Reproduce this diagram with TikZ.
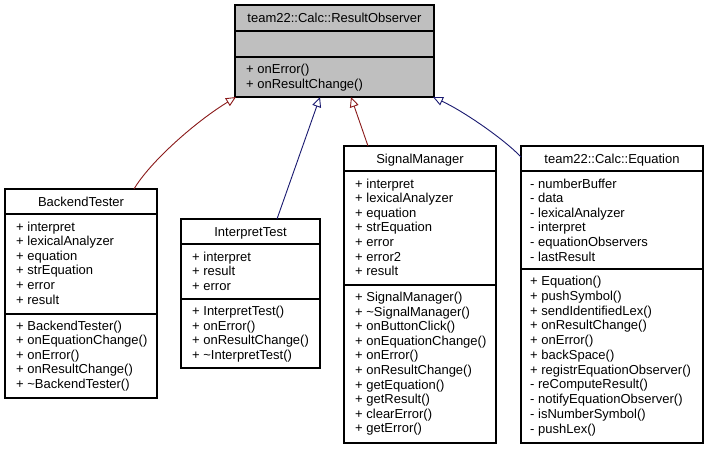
\documentclass[tikz,border=0pt]{standalone}
\usepackage{fontspec}
\setmainfont{Liberation Sans}
\usetikzlibrary{arrows.meta}
\definecolor{redline}{HTML}{8B1A1A}
\definecolor{blueline}{HTML}{191970}
\definecolor{boxgray}{HTML}{BFBFBF}
\begin{document}
\begin{tikzpicture}[x=1pt,y=-1pt,
  cls/.style={draw=black, line width=1.1pt, fill=white, inner sep=0pt, outer sep=0pt, anchor=north west},
  txt/.style={anchor=base west, inner sep=0pt, font=\fontsize{13}{15}\selectfont},
  ttl/.style={anchor=base, inner sep=0pt, font=\fontsize{13}{15}\selectfont},
  sepline/.style={draw=black, line width=1.1pt},
  inh/.style={line width=0.9pt, -{Triangle[open, length=10pt, width=9pt, line width=0.9pt]}}
]
\fill[white] (0,0) rectangle (709,448);
\useasboundingbox (0,0) rectangle (709,448);

% ---- team22::Calc::ResultObserver
\node[cls, fill=boxgray, minimum width=199, minimum height=92] (ro) at (235,5) {};
\draw[sepline] (235,31) -- (434,31);
\draw[sepline] (235,57) -- (434,57);
\node[ttl] (ro-t) at (334.5,22.5) {team22::Calc::ResultObserver};
\foreach \t [count=\i] in {+ onError(), + onResultChange()}
  \node[txt] (ro-m\i) at (246,{73.5+(\i-1)*14.6}) {\t};

% ---- BackendTester
\node[cls, minimum width=152, minimum height=209] (bt) at (5,189) {};
\draw[sepline] (5,214) -- (157,214);
\draw[sepline] (5,314) -- (157,314);
\node[ttl] (bt-t) at (81,206) {BackendTester};
\foreach \t [count=\i] in {+ interpret, + lexicalAnalyzer, + equation, + strEquation, + error, + result}
  \node[txt] (bt-a\i) at (16,{231+(\i-1)*14.6}) {\t};
\foreach \t [count=\i] in {+ BackendTester(), + onEquationChange(), + onError(), + onResultChange(), + \textasciitilde BackendTester()}
  \node[txt] (bt-m\i) at (16,{330+(\i-1)*14.6}) {\t};

% ---- InterpretTest
\node[cls, minimum width=139, minimum height=149] (it) at (181,219) {};
\draw[sepline] (181,244) -- (320,244);
\draw[sepline] (181,299) -- (320,299);
\node[ttl] (it-t) at (250.5,236) {InterpretTest};
\foreach \t [count=\i] in {+ interpret, + result, + error}
  \node[txt] (it-a\i) at (192,{261+(\i-1)*14.6}) {\t};
\foreach \t [count=\i] in {+ InterpretTest(), + onError(), + onResultChange(), + \textasciitilde InterpretTest()}
  \node[txt] (it-m\i) at (192,{315.5+(\i-1)*14.6}) {\t};

% ---- SignalManager
\node[cls, minimum width=152, minimum height=297] (sm) at (344,146) {};
\draw[sepline] (344,171) -- (496,171);
\draw[sepline] (344,285) -- (496,285);
\node[ttl] (sm-t) at (420,163) {SignalManager};
\foreach \t [count=\i] in {+ interpret, + lexicalAnalyzer, + equation, + strEquation, + error, + error2, + result}
  \node[txt] (sm-a\i) at (355,{188+(\i-1)*14.6}) {\t};
\foreach \t [count=\i] in {+ SignalManager(), + \textasciitilde SignalManager(), + onButtonClick(), + onEquationChange(), + onError(), + onResultChange(), + getEquation(), + getResult(), + clearError(), + getError()}
  \node[txt] (sm-m\i) at (355,{301.5+(\i-1)*14.6}) {\t};

% ---- team22::Calc::Equation
\node[cls, minimum width=182, minimum height=297] (eq) at (521,146) {};
\draw[sepline] (521,171) -- (703,171);
\draw[sepline] (521,269) -- (703,269);
\node[ttl] (eq-t) at (612,163) {team22::Calc::Equation};
\foreach \t [count=\i] in {- numberBuffer, - data, - lexicalAnalyzer, - interpret, - equationObservers, - lastResult}
  \node[txt] (eq-a\i) at (530,{188+(\i-1)*14.6}) {\t};
\foreach \t [count=\i] in {+ Equation(), + pushSymbol(), + sendIdentifiedLex(), + onResultChange(), + onError(), + backSpace(), + registrEquationObserver(), - reComputeResult(), - notifyEquationObserver(), - isNumberSymbol(), - pushLex()}
  \node[txt] (eq-m\i) at (530,{285.5+(\i-1)*14.75}) {\t};

% ---- inheritance connectors
\draw[inh, redline] ([xshift=129pt]bt.north west) .. controls (150,162) and (195,122) .. ([xshift=1pt]ro.south west);
\draw[inh, blueline] ([xshift=96pt]it.north west) -- ([xshift=85pt]ro.south west);
\draw[inh, redline] ([xshift=24pt]sm.north west) -- ([xshift=116pt]ro.south west);
\draw[inh, blueline] ([yshift=-11pt]eq.north west) .. controls (505,140) and (465,112) .. ([xshift=-1pt]ro.south east);
\end{tikzpicture}
\end{document}
